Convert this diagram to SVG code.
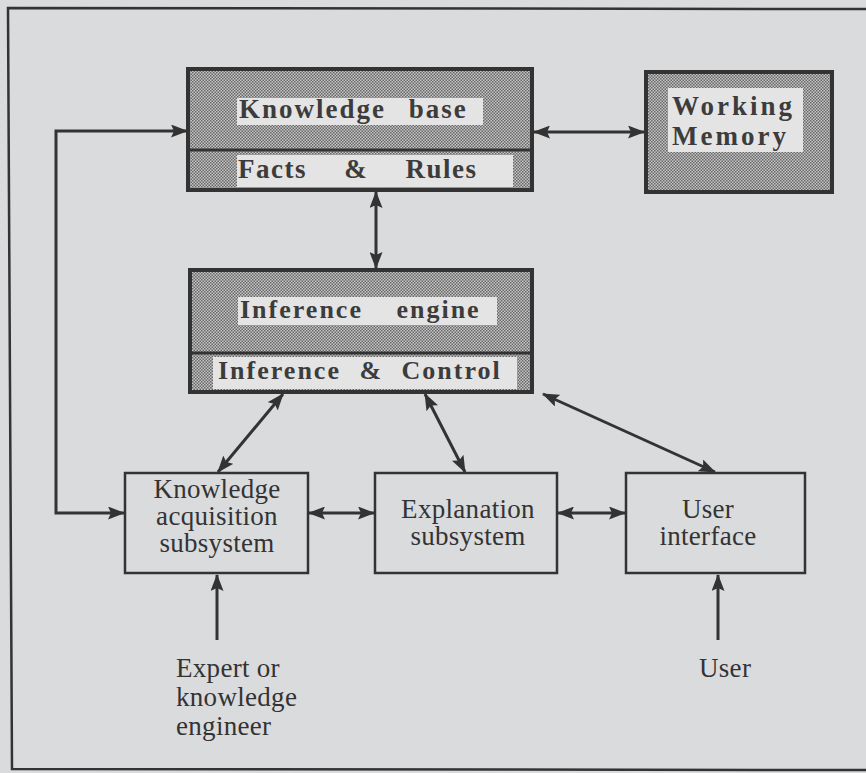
<svg xmlns="http://www.w3.org/2000/svg" width="866" height="773" viewBox="0 0 866 773">
  <defs>
    <pattern id="halftone" width="3" height="3" patternUnits="userSpaceOnUse">
      <rect width="3" height="3" fill="#c6c6c6"/>
      <rect x="0" y="0" width="1.5" height="1.5" fill="#676767"/>
      <rect x="1.5" y="1.5" width="1.5" height="1.5" fill="#676767"/>
    </pattern>
    <marker id="head" viewBox="0 0 17 13" refX="16" refY="6.5" markerWidth="17" markerHeight="13" markerUnits="userSpaceOnUse" orient="auto-start-reverse">
      <path d="M0,0 L17,6.5 L0,13 L3,6.5 z" fill="#333"/>
    </marker>
  </defs>
  <style>
    .shaded { fill: url(#halftone); stroke: #333; stroke-width: 4; }
    .band { fill: #e4e4e4; }
    .plain { fill: none; stroke: #333; stroke-width: 2.5; }
    .bold { font-family: "Liberation Serif", "Times New Roman", serif; font-weight: bold; fill: #3c3c3c; }
    .label { font-family: "Liberation Serif", "Times New Roman", serif; font-size: 27px; letter-spacing: 0.3px; fill: #333; }
    .link { fill: none; stroke: #333; stroke-width: 3; marker-end: url(#head); }
    .both { marker-start: url(#head); }
  </style>

  <rect width="866" height="773" fill="#dadbdd"/>
  <!-- page frame -->
  <path d="M866,9 L8,8 L12,769 L866,770" fill="none" stroke="#333" stroke-width="2.5"/>

  <g id="knowledge-base">
    <rect class="shaded" x="188" y="69" width="344" height="121"/>
    <line x1="188" y1="150" x2="532" y2="150" stroke="#333" stroke-width="3"/>
    <rect class="band" x="237" y="98" width="246" height="27"/>
    <rect class="band" x="237" y="155" width="276" height="32"/>
    <text class="bold" x="239" y="118" font-size="27" letter-spacing="2" word-spacing="14">Knowledge base</text>
    <text class="bold" x="238" y="178" font-size="27" letter-spacing="1.5" word-spacing="29">Facts &amp; Rules</text>
  </g>

  <g id="working-memory">
    <rect class="shaded" x="646" y="72" width="186" height="120"/>
    <rect class="band" x="668" y="88" width="135" height="64"/>
    <text class="bold" x="672" y="115" font-size="27" letter-spacing="3">Working</text>
    <text class="bold" x="672" y="145" font-size="27" letter-spacing="3">Memory</text>
  </g>

  <g id="inference-engine">
    <rect class="shaded" x="190" y="270" width="342" height="122"/>
    <line x1="190" y1="353" x2="532" y2="353" stroke="#333" stroke-width="3"/>
    <rect class="band" x="238" y="297" width="259" height="28"/>
    <rect class="band" x="213" y="357" width="304" height="32"/>
    <text class="bold" x="240" y="318" font-size="26" letter-spacing="2" word-spacing="25">Inference engine</text>
    <text class="bold" x="218" y="379" font-size="26" letter-spacing="2" word-spacing="10">Inference &amp; Control</text>
  </g>

  <g id="knowledge-acquisition">
    <rect class="plain" x="125" y="473" width="183" height="100"/>
    <text class="label" x="217" y="498" text-anchor="middle">Knowledge</text>
    <text class="label" x="217" y="525" text-anchor="middle">acquisition</text>
    <text class="label" x="217" y="552" text-anchor="middle">subsystem</text>
  </g>

  <g id="explanation">
    <rect class="plain" x="375" y="473" width="182" height="100"/>
    <text class="label" x="468" y="518" text-anchor="middle">Explanation</text>
    <text class="label" x="468" y="545" text-anchor="middle">subsystem</text>
  </g>

  <g id="user-interface">
    <rect class="plain" x="626" y="473" width="179" height="100"/>
    <text class="label" x="708" y="518" text-anchor="middle">User</text>
    <text class="label" x="708" y="545" text-anchor="middle">interface</text>
  </g>

  <g id="expert">
    <text class="label" x="176" y="677">Expert or</text>
    <text class="label" x="176" y="706">knowledge</text>
    <text class="label" x="176" y="735">engineer</text>
  </g>

  <g id="user">
    <text class="label" x="699" y="677">User</text>
  </g>

  <g id="connectors">
    <path class="link both" d="M187,131 L56,131 L56,513 L124,513"/>
    <line class="link both" x1="534" y1="132" x2="644" y2="132"/>
    <line class="link both" x1="376" y1="192" x2="376" y2="268"/>
    <line class="link both" x1="283" y1="394" x2="218" y2="472"/>
    <line class="link both" x1="425" y1="394" x2="465" y2="472"/>
    <line class="link both" x1="543" y1="394" x2="715" y2="472"/>
    <line class="link both" x1="309" y1="513" x2="374" y2="513"/>
    <line class="link both" x1="558" y1="513" x2="625" y2="513"/>
    <line class="link" x1="217" y1="640" x2="217" y2="575"/>
    <line class="link" x1="718" y1="640" x2="718" y2="575"/>
  </g>
</svg>
